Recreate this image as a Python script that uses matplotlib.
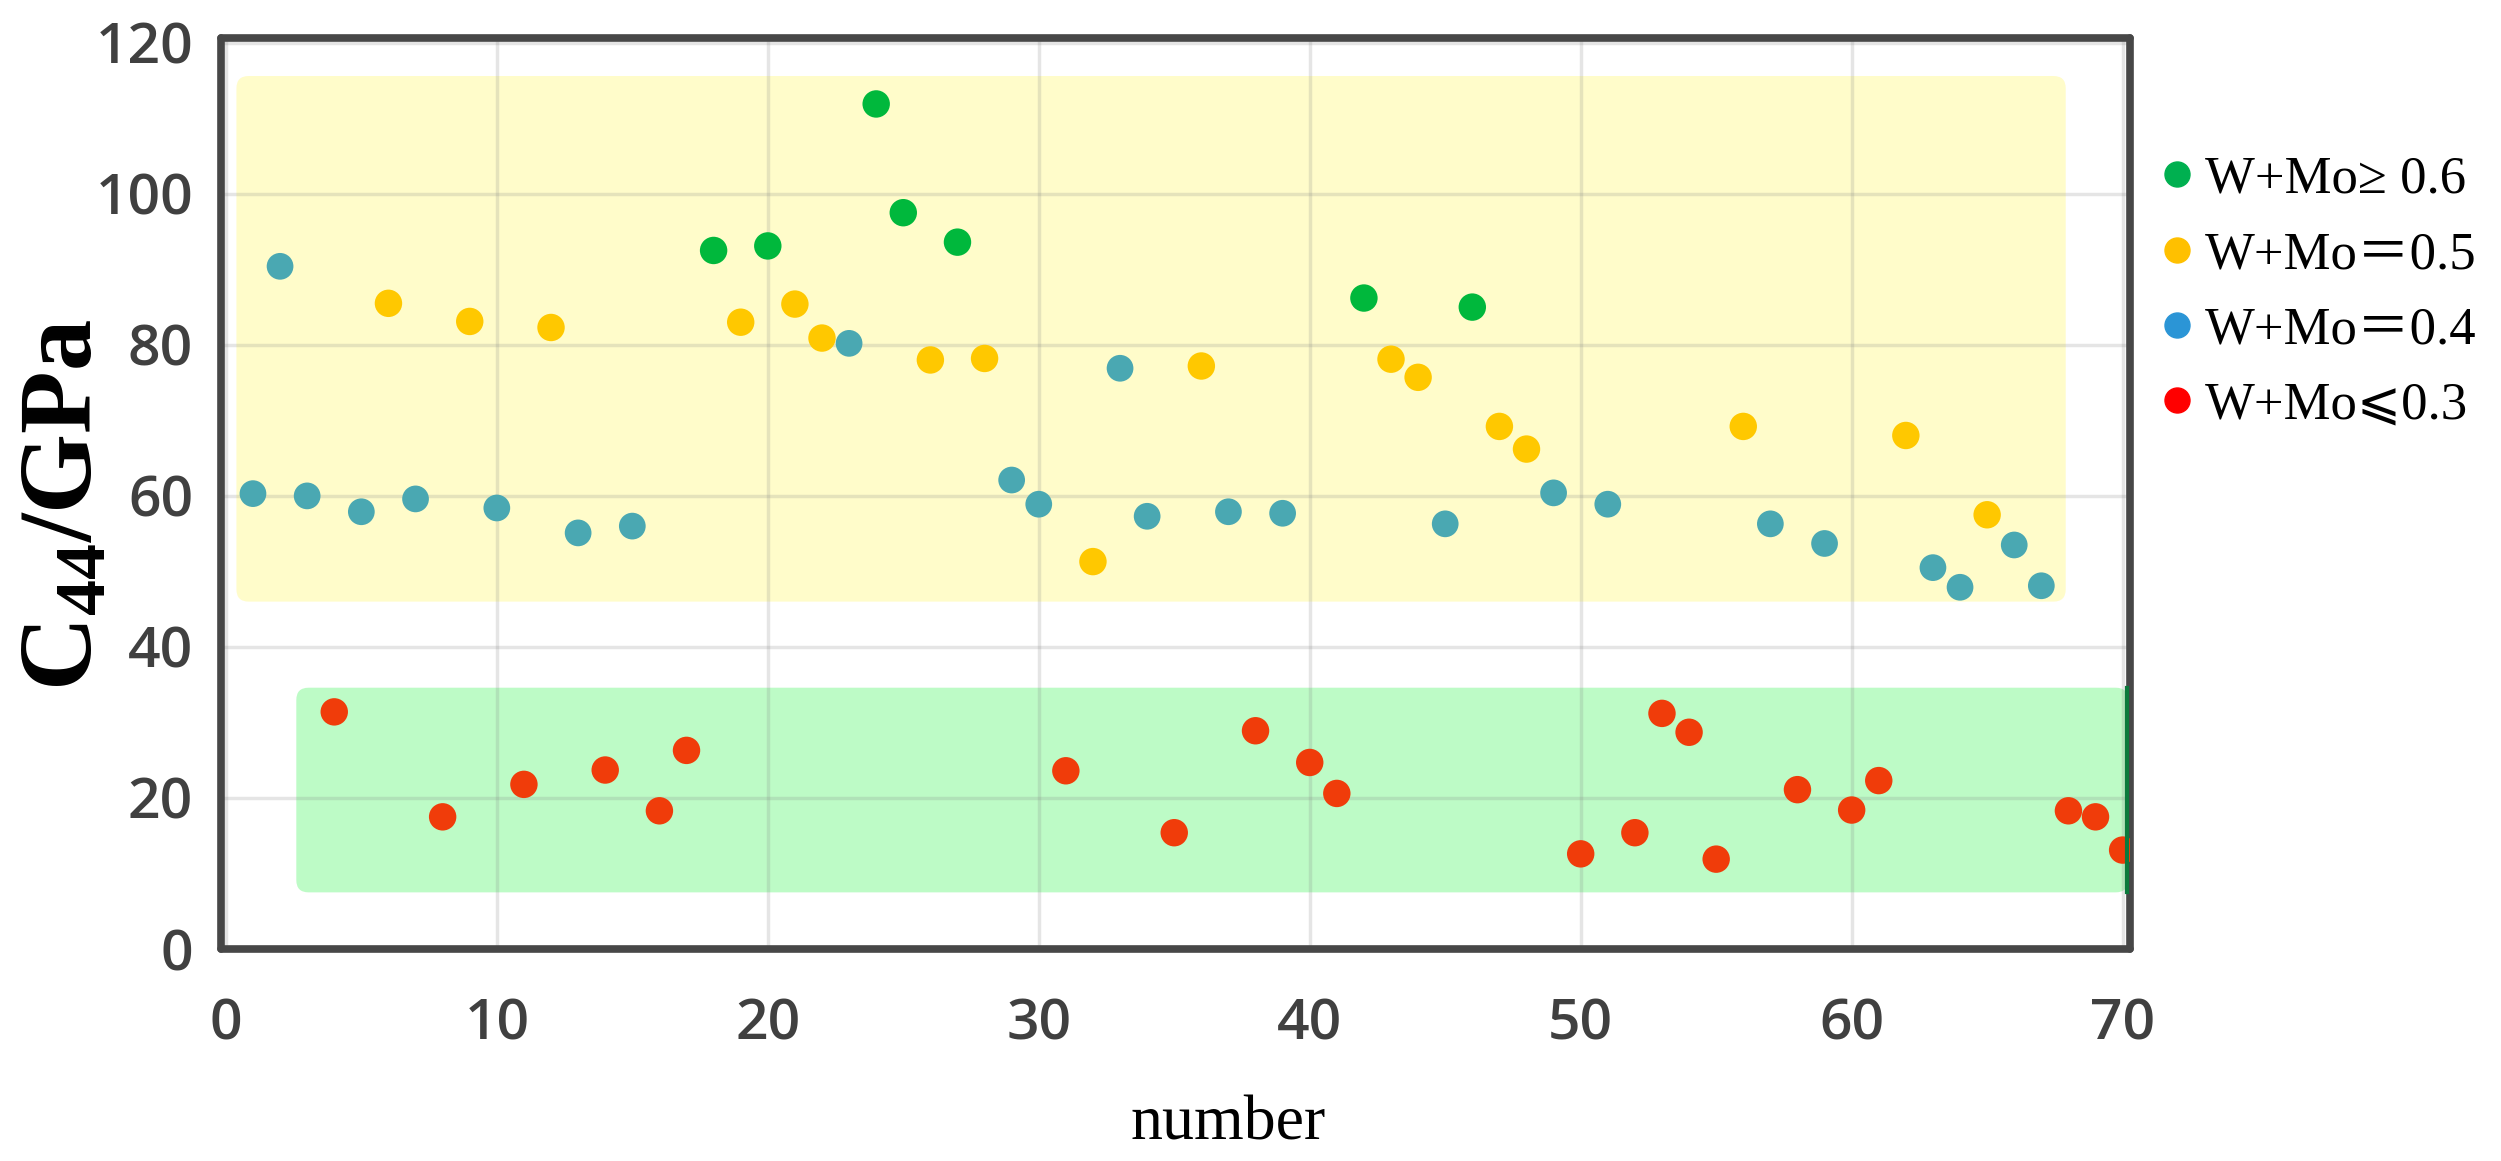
import matplotlib
matplotlib.use('Agg')
import matplotlib.pyplot as plt
from matplotlib.patches import FancyBboxPatch
from matplotlib.lines import Line2D

# W+Mo >= 0.6
green_x = [18, 20, 24, 25, 27, 42, 46]
green_y = [92.5, 93.1, 111.9, 97.5, 93.6, 86.2, 85.0]

# W+Mo = 0.5
orange_x = [6, 9, 12, 19, 21, 22, 26, 28, 32, 36, 43, 44, 47, 48, 56, 62, 65]
orange_y = [85.5, 83.1, 82.3, 83.0, 85.4, 80.9, 78.0, 78.2, 51.3, 77.2,
            78.1, 75.7, 69.2, 66.2, 69.2, 68.0, 57.5]

# W+Mo = 0.4
teal_x = [1, 2, 3, 5, 7, 10, 13, 15, 23, 29, 30, 33, 34, 37, 39, 45, 49,
          51, 57, 59, 63, 64, 66, 67]
teal_y = [60.3, 90.4, 60.0, 57.9, 59.6, 58.4, 55.1, 56.0, 80.2, 62.1, 58.9,
          76.9, 57.3, 57.9, 57.7, 56.3, 60.4, 58.9, 56.3, 53.7, 50.5, 47.9,
          53.5, 48.1]

# W+Mo <= 0.3
red_x = [4, 8, 11, 14, 16, 17, 31, 35, 38, 40, 41, 50, 52, 53, 54, 55, 58,
         60, 61, 68, 69, 70]
red_y = [31.4, 17.5, 21.8, 23.7, 18.3, 26.3, 23.6, 15.4, 28.9, 24.7, 20.6,
         12.6, 15.4, 31.2, 28.7, 11.9, 21.1, 18.4, 22.3, 18.3, 17.5, 13.1]

legend_labels = ['W+Mo\u2265 0.6', 'W+Mo\uff1d0.5', 'W+Mo\uff1d0.4', 'W+Mo\u2a7d0.3']

# shaded regions (x0, x1, y0, y1)
upper_band = (0.39, 67.9, 46.0, 115.6)
lower_band = (2.6, 70.2, 7.5, 34.6)

xticks = [0, 10, 20, 30, 40, 50, 60, 70]
yticks = [0, 20, 40, 60, 80, 100, 120]

plt.rcParams['font.family'] = 'Open Sans'
plt.rcParams['mathtext.fontset'] = 'custom'
plt.rcParams['mathtext.rm'] = 'Liberation Serif:bold'
plt.rcParams['mathtext.it'] = 'Liberation Serif:bold:italic'
plt.rcParams['mathtext.bf'] = 'Liberation Serif:bold'

fig = plt.figure(figsize=(25.01, 11.61), dpi=100)
ax = fig.add_axes([0.08836, 0.18260, 0.76349, 0.78510])
ax.set_xlim(-0.18, 70.29)
ax.set_ylim(0, 120.7)

for (x0, x1, y0, y1), col in [(upper_band, '#fffcca'), (lower_band, '#bdfbc6')]:
    ax.add_patch(FancyBboxPatch((x0, y0), x1 - x0, y1 - y0,
                                boxstyle='round,pad=0,rounding_size=0.45',
                                mutation_aspect=3.6, fc=col, ec='none', zorder=0.2))
ax.plot([70.18, 70.18], [lower_band[2], lower_band[3]], color='#0b7a3c', lw=3,
        zorder=4, clip_on=False)

ax.scatter(green_x, green_y, s=390, color='#00b83c', edgecolors='none', zorder=3)
ax.scatter(orange_x, orange_y, s=390, color='#ffc800', edgecolors='none', zorder=3)
ax.scatter(teal_x, teal_y, s=370, color='#4aa8b2', edgecolors='none', zorder=3)
ax.scatter(red_x, red_y, s=390, color='#f03c0a', edgecolors='none', zorder=3)

ax.set_axisbelow(True)
ax.grid(True, color='#808080', alpha=0.2, lw=2.5)
ax.set_xticks(xticks)
ax.set_yticks(yticks)
ax.tick_params(length=0, labelsize=41, labelcolor='#404040')
ax.tick_params(axis='x', pad=35)
ax.tick_params(axis='y', pad=20)
for lab in ax.get_xticklabels() + ax.get_yticklabels():
    lab.set_fontweight('semibold')

for sp in ax.spines.values():
    sp.set_linewidth(5.5)
    sp.set_color('#474747')
    sp.set_capstyle('round')
    sp.set_joinstyle('round')

ax.set_xlabel('number', fontsize=46, family='Liberation Serif', color='black')
ax.xaxis.set_label_coords(0.5274, -0.192)
ax.xaxis.label.set_va('center')

ax.set_ylabel('C$_{44}$/GPa', fontsize=74, fontweight='bold',
              family='Liberation Serif', color='black')
ax.yaxis.set_label_coords(-0.057, 0.487)

handles = [Line2D([], [], ls='none', marker='o', ms=18, mfc=c, mec=c)
           for c in ['#00b050', '#ffc000', '#2b95d6', '#ff0000']]
fig.legend(handles, legend_labels, loc='upper left', bbox_to_anchor=(0.8633, 0.8660),
           frameon=False, handlelength=0.66, handletextpad=0.2, labelspacing=0.52,
           borderpad=0, borderaxespad=0,
           prop={'family': ['Liberation Serif', 'Noto Sans CJK SC', 'DejaVu Sans'],
                 'size': 38})

fig.savefig('out.png', dpi=100)
